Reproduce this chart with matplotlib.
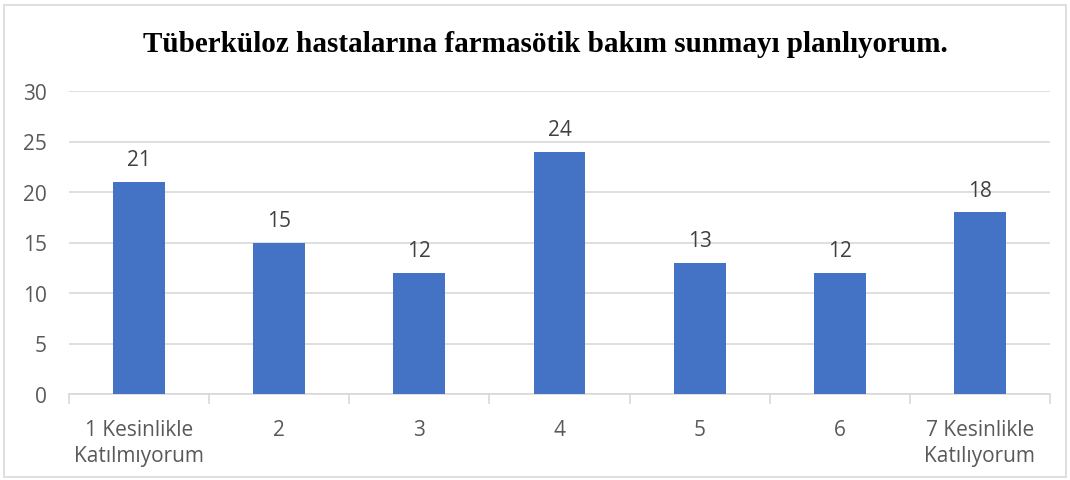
import matplotlib.pyplot as plt
from matplotlib.patches import Rectangle

categories = ['1 Kesinlikle\nKatılmıyorum', '2', '3', '4', '5', '6', '7 Kesinlikle\nKatılıyorum']
values = [21, 15, 12, 24, 13, 12, 18]
title = 'Tüberküloz hastalarına farmasötik bakım sunmayı planlıyorum.'

bar_color = '#4472C4'
grid_color = '#D9D9D9'
text_gray = '#595959'

fig = plt.figure(figsize=(10.7, 4.81), dpi=100)
ax = fig.add_axes([69 / 1070, 86 / 481, (1050 - 69) / 1070, (395 - 92) / 481])

# chart frame
fig.patches.append(Rectangle((4 / 1070, 3 / 481), 1062 / 1070, 472 / 481,
                             transform=fig.transFigure, fill=False,
                             edgecolor=grid_color, linewidth=1.2))

x = list(range(len(values)))
ax.bar(x, values, width=0.37, color=bar_color, zorder=3)

for xi, v in zip(x, values):
    ax.annotate(str(v), (xi, v), xytext=(0, 12), textcoords='offset points',
                ha='center', va='baseline', fontsize=15, color='#404040',
                family='Open Sans')

ax.set_ylim(0, 30)
ax.set_xlim(-0.5, len(values) - 0.5)
ax.set_yticks(range(0, 31, 5))
ax.yaxis.grid(True, color=grid_color, linewidth=1.2, zorder=0)
ax.tick_params(axis='y', length=0, pad=16, labelsize=15, labelcolor=text_gray)
for lab in ax.get_yticklabels():
    lab.set_family('Open Sans')

# boundary ticks below the axis, labels at the bar centres
ax.set_xticks([i - 0.5 for i in range(len(values) + 1)])
ax.set_xticklabels([])
ax.tick_params(axis='x', which='major', length=7, color=grid_color, width=1.2)
ax.set_xticks(x, minor=True)
ax.set_xticklabels(categories, minor=True, fontsize=15, color=text_gray,
                   family='Open Sans', linespacing=1.32)
ax.tick_params(axis='x', which='minor', length=0, pad=18)

for s in ['left', 'right', 'top']:
    ax.spines[s].set_visible(False)
ax.spines['bottom'].set_color(grid_color)
ax.spines['bottom'].set_linewidth(1.2)

fig.text(545 / 1070, 1 - 45 / 481, title, ha='center', va='center',
         fontsize=21, fontweight='bold', family='Liberation Serif')

fig.savefig('out.png', dpi=100)
